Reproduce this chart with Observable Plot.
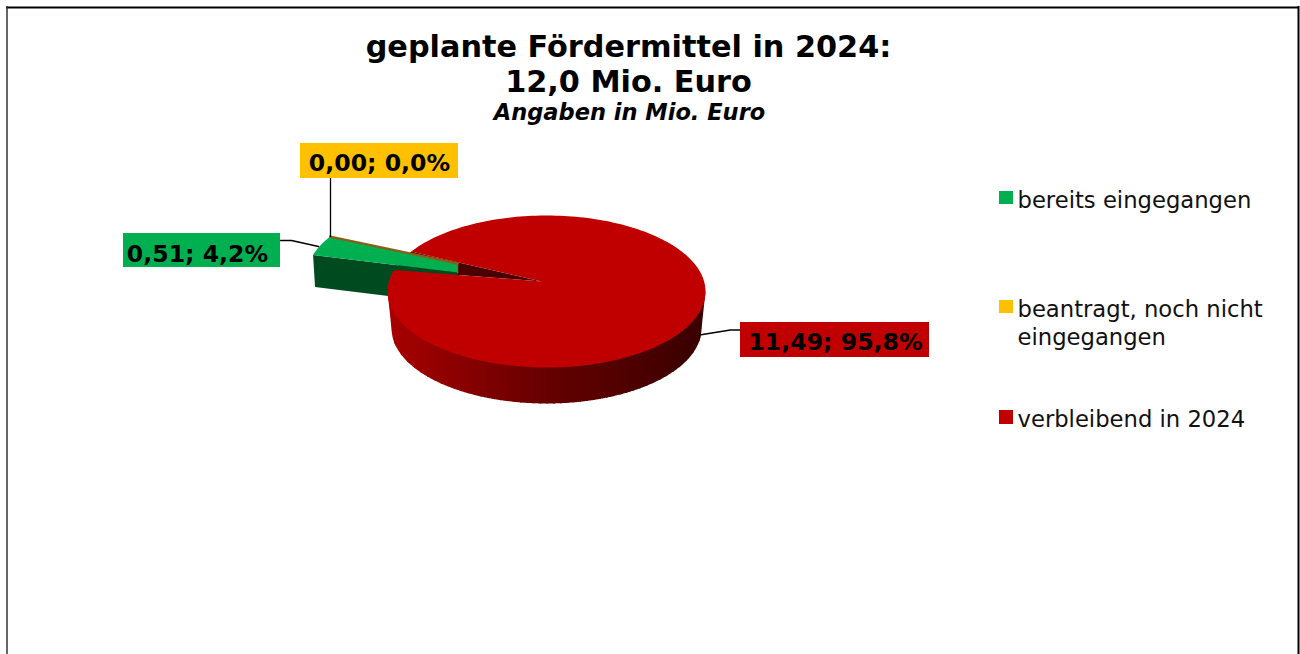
<!DOCTYPE html>
<html lang="de">
<head>
<meta charset="utf-8">
<title>geplante Fördermittel in 2024</title>
<script src="https://cdn.jsdelivr.net/npm/d3@7"></script>
<script src="https://cdn.jsdelivr.net/npm/@observablehq/plot@0.6"></script>
<style>
html,body{margin:0;padding:0;background:#fff;overflow:hidden}
svg{display:block}
</style>
</head>
<body>
<div id="chart"></div>
<script>
// Data
const categories = ["bereits eingegangen", "beantragt, noch nicht\neingegangen", "verbleibend in 2024"];
const values = [0.506, 0.00, 11.49];
const sliceColors = ["#00B050", "#FFC000", "#C00000"];
const titleLines = ["geplante Fördermittel in 2024:", "12,0 Mio. Euro"];
const subtitle = "Angaben in Mio. Euro";

// Layout of the tilted pie
const firstSliceAngle = -73.5;
const top3d = {cx: 546, cy: 291, rx: 159, ry: 76};
const bottom3d = {cx: 546, cy: 328, rx: 155, ry: 75};
const apex = {x: 541, y: 281};
const explode = {dx: -81, dy: -15};
const greenDepth = {far: 32};
const font = "DejaVu Sans, Verdana, sans-serif";

const total = d3.sum(values);
const num = d3.format(",.2f"), pct = d3.format(",.1f");
const de = s => s.replace(/\./g, ",");
const labelText = values.map(v => de(num(v)) + "; " + de(pct(v / total * 100)) + "%");

const pie = d3.pie().sort(null).value(d => d)
  .startAngle(firstSliceAngle * Math.PI / 180)
  .endAngle((firstSliceAngle + 360) * Math.PI / 180)(values);

const rim = (e, a) => ({x: e.cx + e.rx * Math.sin(a), y: e.cy - e.ry * Math.cos(a)});
const shift = p => ({x: p.x + explode.dx, y: p.y + explode.dy});
const arc = (e, a0, a1, n) => d3.range(n + 1).map(i => rim(e, a0 + (a1 - a0) * i / n));

const [green, yellow, red] = pie;

// red slice
const redTop = [apex, ...arc(top3d, red.startAngle, red.endAngle, 240)];
const wedge = [apex, rim(top3d, red.startAngle), rim(top3d, red.endAngle)];
const wallColor = d3.scaleLinear().domain([388, 546, 700]).range(["#a80000", "#660000", "#3a0000"]);
// side wall of the pie, as vertical strips under the top face
const lowerEdge = (x) => {
  const off = Math.abs(x - bottom3d.cx);
  if (off <= bottom3d.rx) return bottom3d.cy + bottom3d.ry * Math.sqrt(1 - (off / bottom3d.rx) ** 2);
  return top3d.cy + (bottom3d.cy - top3d.cy) * (top3d.rx - off) / (top3d.rx - bottom3d.rx);
};
const nBands = 48;
const wallX0 = top3d.cx - top3d.rx, wallX1 = top3d.cx + top3d.rx;
const wall = d3.range(nBands).flatMap(i => {
  const x0 = wallX0 + (wallX1 - wallX0) * i / nBands;
  const x1 = Math.min(wallX1, wallX0 + (wallX1 - wallX0) * (i + 1) / nBands + 1.5);
  const color = wallColor((x0 + x1) / 2);
  const s = d3.range(9).map(k => x0 + (x1 - x0) * k / 8);
  return [...s.map(x => ({x, y: top3d.cy, band: i, color})),
          ...s.reverse().map(x => ({x, y: lowerEdge(x), band: i, color}))];
});

// green slice, pulled out of the pie
const gArc = arc(top3d, green.startAngle, green.endAngle, 12).map(shift);
const gTip = shift(apex);
const tipTop = {x: gTip.x - 3, y: gTip.y - 3}, tipBottom = {x: gTip.x - 3, y: gTip.y + 6};
const greenTop = [tipBottom, ...gArc, tipTop];
const gOuter = gArc[0];
const greenWall = [tipBottom, gOuter,
  {x: gOuter.x + 2, y: gOuter.y + greenDepth.far},
  {x: tipBottom.x, y: tipBottom.y + greenDepth.far}];
const yellowEdge = [tipTop, gArc[gArc.length - 1]];
const tipEdge = [tipTop, tipBottom];

// labels
const labelBoxes = [
  {x1: 123, x2: 280, y1: 233, y2: 267, tx: 197, ty: 261},
  {x1: 300, x2: 458, y1: 143, y2: 178, tx: 379, ty: 170},
  {x1: 740, x2: 929, y1: 322, y2: 357, tx: 835, ty: 349}
].map((b, i) => ({...b, text: labelText[i], fill: sliceColors[i]}));
const leaders = [
  [{x: 280, y: 240}, {x: 291, y: 240}, {x: 318, y: 246}],
  [{x: 330, y: 178}, {x: 330, y: 236}],
  [{x: 699, y: 334.5}, {x: 730, y: 329.5}, {x: 740, y: 329.5}]
];

// legend
const legendRows = [
  {y1: 191, y2: 204, ty: 207},
  {y1: 300, y2: 313, ty: 344},
  {y1: 410, y2: 424, ty: 426}
].map((r, i) => ({...r, text: categories[i], fill: sliceColors[i]}));

const poly = (pts, fill) => Plot.line(pts, {x: "x", y: "y", fill, stroke: "none", curve: "linear-closed"});
const polyline = (pts, stroke, strokeWidth) => Plot.line(pts, {x: "x", y: "y", stroke, strokeWidth});

const plot = Plot.plot({
  width: 1300, height: 654, margin: 0,
  x: {domain: [0, 1300], range: [0, 1300], axis: null},
  y: {domain: [0, 654], range: [0, 654], axis: null},
  color: {type: "identity"},
  style: {background: "#fff", fontFamily: font},
  marks: [
    // frame
    Plot.ruleY([7], {x1: 6, x2: 1299, stroke: "#000", strokeWidth: 2}),
    Plot.ruleX([6.5], {y1: 6, y2: 654, stroke: "#333", strokeWidth: 1.5}),
    Plot.ruleX([1298], {y1: 6, y2: 654, stroke: "#000", strokeWidth: 2}),
    // pie
    poly(wedge, "#4a0000"),
    poly(greenWall, "#004a20"),
    poly(greenTop, sliceColors[0]),
    polyline(yellowEdge, "#86601a", 2.4),
    polyline(tipEdge, "#6f7a10", 1.5),
    Plot.line(wall, {x: "x", y: "y", z: "band", fill: "color", stroke: "none", curve: "linear-closed"}),
    poly(redTop, sliceColors[2]),
    // leaders
    ...leaders.map(l => polyline(l, "#000", 1.3)),
    // data labels
    Plot.rect(labelBoxes, {x1: "x1", x2: "x2", y1: "y1", y2: "y2", fill: "fill"}),
    Plot.text(labelBoxes, {x: "tx", y: "ty", text: "text", fill: "#000", fontSize: 23.6, fontWeight: "bold", lineAnchor: "bottom"}),
    // title
    Plot.text(titleLines, {x: () => 628, y: (d, i) => [56, 91][i], text: d => d, fill: "#000", fontSize: 30.3, fontWeight: "bold", lineAnchor: "bottom"}),
    Plot.text([subtitle], {x: () => 629, y: () => 119, text: d => d, fill: "#000", fontSize: 22.5, fontWeight: "bold", fontStyle: "italic", lineAnchor: "bottom"}),
    // legend
    Plot.rect(legendRows, {x1: () => 999, x2: () => 1013, y1: "y1", y2: "y2", fill: "fill"}),
    Plot.text(legendRows, {x: () => 1017, y: "ty", text: "text", fill: "#111", fontSize: 22.7, textAnchor: "start", lineAnchor: "bottom", lineHeight: 1.22})
  ]
});
document.getElementById("chart").append(plot);
</script>
</body>
</html>
